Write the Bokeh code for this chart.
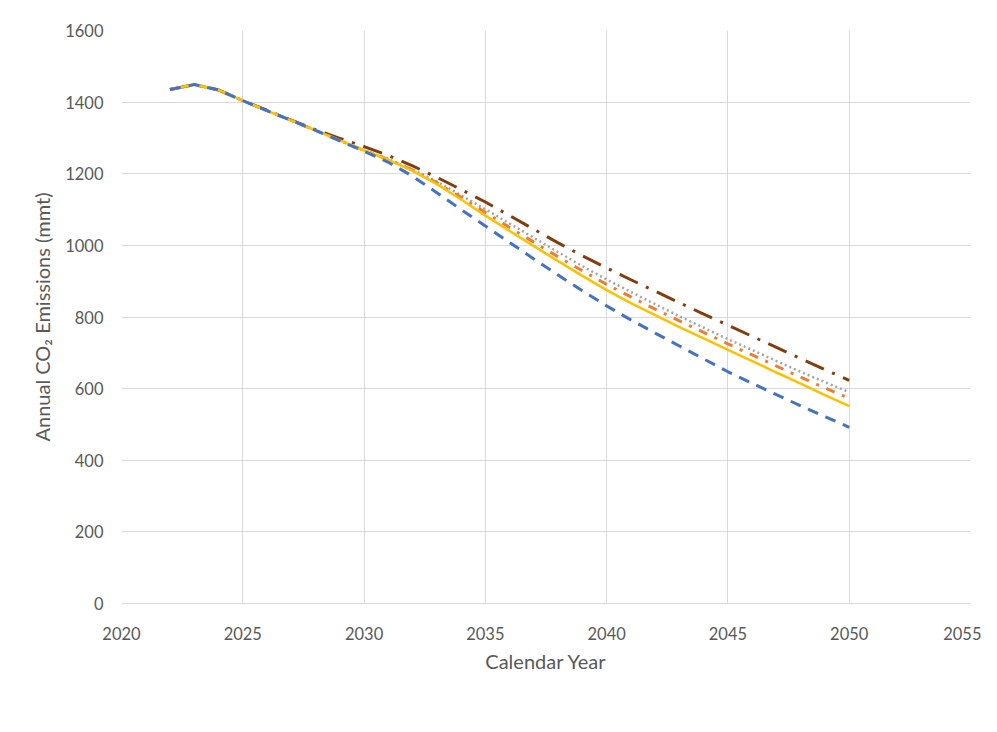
from bokeh.plotting import figure
from bokeh.models import FixedTicker, Legend, LegendItem, Range1d
from bokeh.embed import file_html
from bokeh.resources import INLINE

years = list(range(2022, 2051))

no_action = [1435, 1449, 1434, 1404, 1377, 1350, 1323, 1299, 1276, 1251, 1222, 1190, 1156, 1121, 1083,
             1045, 1007, 971, 937, 904, 872, 840, 808, 777, 746, 715, 684, 653, 623]
pc1lt3 = [1435, 1449, 1434, 1404, 1376, 1349, 1321, 1293, 1266, 1241, 1212, 1178, 1140, 1101, 1061,
          1021, 981, 942, 905, 870, 836, 802, 770, 738, 708, 677, 647, 618, 590]
pc2lt4 = [1435, 1449, 1434, 1404, 1376, 1349, 1321, 1293, 1265, 1240, 1210, 1175, 1134, 1092, 1050,
          1009, 968, 929, 891, 856, 822, 789, 757, 725, 694, 663, 632, 602, 573]
pc3lt5 = [1435, 1449, 1434, 1404, 1376, 1349, 1321, 1293, 1265, 1239, 1208, 1171, 1128, 1083, 1040,
          998, 956, 915, 875, 839, 805, 772, 740, 708, 677, 645, 614, 582, 551]
pc6lt8 = [1435, 1449, 1434, 1404, 1376, 1349, 1321, 1292, 1263, 1232, 1193, 1147, 1100, 1054, 1008,
          962, 917, 873, 831, 792, 755, 719, 683, 647, 615, 583, 552, 522, 492]

series_names = ["No Action Alternative", "PC1LT3", "PC2LT4", "PC3LT5", "PC6LT8"]
x_ticks = [2020, 2025, 2030, 2035, 2040, 2045, 2050, 2055]
y_ticks = [0, 200, 400, 600, 800, 1000, 1200, 1400, 1600]

FONT = "Lato"
TXT = "#595959"
GRID = "#D9D9D9"

p = figure(frame_width=849, frame_height=573, output_backend="svg", toolbar_location=None,
           x_range=Range1d(2020, 2055), y_range=Range1d(0, 1600),
           min_border_left=121, min_border_right=11, min_border_top=30, min_border_bottom=100)
p.outline_line_color = None
p.background_fill_color = "white"
p.border_fill_color = "white"

p.xaxis.ticker = FixedTicker(ticks=x_ticks)
p.yaxis.ticker = FixedTicker(ticks=y_ticks)
p.xgrid.ticker = FixedTicker(ticks=x_ticks)
p.ygrid.ticker = FixedTicker(ticks=y_ticks)
for g in (p.xgrid, p.ygrid):
    g.grid_line_color = GRID
    g.grid_line_width = 1

for ax in (p.xaxis, p.yaxis):
    ax.major_tick_line_color = None
    ax.minor_tick_line_color = None
    ax.major_tick_out = 0
    ax.major_tick_in = 0
    ax.major_label_text_font = FONT
    ax.major_label_text_font_size = "16.5px"
    ax.major_label_text_color = TXT
    ax.axis_label_text_font = FONT
    ax.axis_label_text_font_size = "20px"
    ax.axis_label_text_font_style = "normal"
    ax.axis_label_text_color = TXT

p.xaxis.axis_line_color = GRID
p.yaxis.axis_line_color = None
p.xaxis.major_label_standoff = 23
p.yaxis.major_label_standoff = 18
p.xaxis.axis_label = "Calendar Year"
p.yaxis.axis_label = "Annual CO\u2082 Emissions (mmt)"
p.xaxis.axis_label_standoff = 6
p.yaxis.axis_label_standoff = 8

r1 = p.line(years, no_action, line_color="#843C0C", line_width=3, line_dash="20 9 3 9")
r2 = p.line(years, pc1lt3, line_color="#A5A5A5", line_width=2.5, line_dash="2 3")
r3 = p.line(years, pc2lt4, line_color="#ED7D31", line_width=3, line_dash="9 8 3 8")
r4 = p.line(years, pc3lt5, line_color="#FFC000", line_width=2.5)
r5 = p.line(years, pc6lt8, line_color="#4472C4", line_width=3, line_dash="11 8")

legend = Legend(items=[LegendItem(label=n, renderers=[r]) for n, r in
                       zip(series_names, [r1, r2, r3, r4, r5])],
                orientation="horizontal", location="top_center",
                label_text_font=FONT, label_text_font_size="17px", label_text_color=TXT,
                glyph_width=34, glyph_height=18, label_standoff=6, spacing=64,
                border_line_color=None, background_fill_alpha=0, padding=4, margin=2)
p.add_layout(legend, "below")

open("out.html", "w").write(file_html(p, INLINE))
